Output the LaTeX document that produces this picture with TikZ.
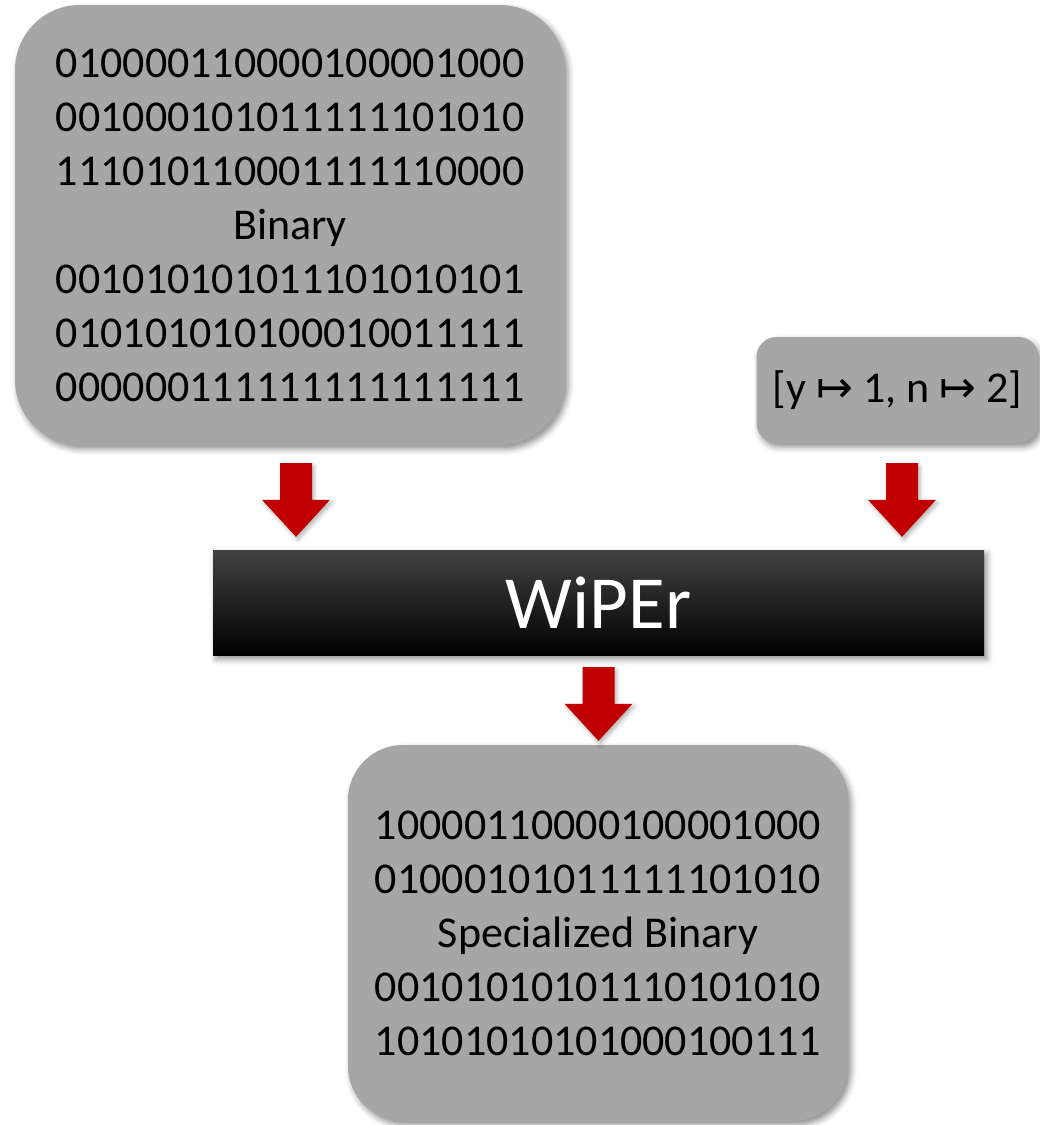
\documentclass[tikz,border=0pt]{standalone}
\usepackage{fontspec}
\setmainfont{Carlito}
\newfontfamily\symfont{DejaVu Sans}
\usetikzlibrary{calc,shadows.blur}
\definecolor{boxgray}{RGB}{166,166,166}
\definecolor{arrowred}{RGB}{192,0,0}
\definecolor{wipertop}{RGB}{66,66,66}
\tikzset{
  softshadow/.style={blur shadow={shadow xshift=3pt, shadow yshift=-4pt, shadow blur radius=6pt, shadow opacity=45}},
  graybox/.style={fill=boxgray, draw=none, inner sep=0pt, align=center, softshadow,
    font=\fontsize{44}{54}\selectfont},
  wiperbox/.style={draw=none, inner sep=0pt, top color=wipertop, middle color=black, bottom color=black,
    text=white, font=\fontsize{75}{80}\selectfont, softshadow},
  blockarrow/.style={fill=arrowred, draw=none,
    blur shadow={shadow xshift=2pt, shadow yshift=-3pt, shadow blur radius=4pt, shadow opacity=30},
    to path={let \p1=(\tikztostart), \p2=(\tikztotarget) in
      (\x1-16pt,\y1) -- (\x1+16pt,\y1) -- (\x1+16pt,\y2+37pt) -- (\x1+34pt,\y2+37pt)
      -- (\x1,\y2) -- (\x1-34pt,\y2+37pt) -- (\x1-16pt,\y2+37pt) -- cycle}}
}
\begin{document}
\begin{tikzpicture}[x=1pt,y=-1pt]
\useasboundingbox (0,0) rectangle (1040,1125);

\node[graybox, minimum width=550pt, minimum height=440pt, rounded corners=65pt] (top) at (290,225)
  {010000110000100001000\\001000101011111101010\\111010110001111110000\\Binary\\001010101011101010101\\010101010100010011111\\000000111111111111111};

\node[graybox, minimum width=282pt, minimum height=106pt, rounded corners=20pt] (par) at (897.5,390)
  {[y {\symfont ↦} 1, n {\symfont ↦} 2]};

\node[wiperbox, minimum width=771pt, minimum height=105pt] (wiper) at (598.5,602.5) {WiPEr};

\node[graybox, minimum width=500pt, minimum height=376pt, rounded corners=55pt] (bot) at (598,933)
  {10000110000100001000\\01000101011111101010\\Specialized Binary\\00101010101110101010\\10101010101000100111};

\coordinate (a1s) at ([xshift=6pt,yshift=-18pt]top.south);
\path (a1s |- wiper.north) ++(0,-13) coordinate (a1e);
\coordinate (a2s) at ([xshift=4.5pt,yshift=-20pt]par.south);
\path (a2s |- wiper.north) ++(0,-13) coordinate (a2e);
\coordinate (a3s) at ([yshift=-12pt]wiper.south);
\path (a3s |- bot.north) ++(0,-4) coordinate (a3e);

\path[blockarrow] (a1s) to (a1e);
\path[blockarrow] (a2s) to (a2e);
\path[blockarrow] (a3s) to (a3e);
\end{tikzpicture}
\end{document}
